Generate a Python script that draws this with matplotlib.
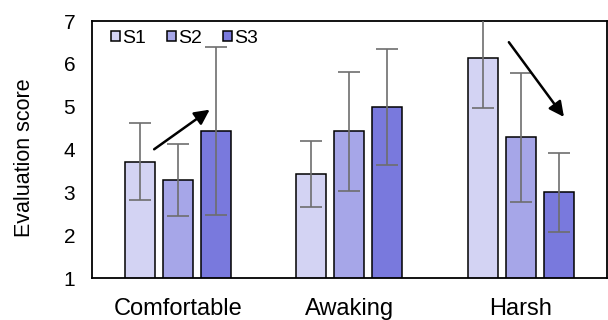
import matplotlib
matplotlib.use("Agg")
import matplotlib.pyplot as plt
import numpy as np

plt.rcParams['font.family'] = ['Liberation Sans', 'DejaVu Sans']

# data
categories = ["Comfortable", "Awaking", "Harsh"]
series = ["S1", "S2", "S3"]
means = {
    "S1": [3.72, 3.43, 6.14],
    "S2": [3.29, 4.43, 4.29],
    "S3": [4.43, 5.00, 3.00],
}
errors = {
    "S1": [0.89, 0.76, 1.16],
    "S2": [0.84, 1.39, 1.51],
    "S3": [1.96, 1.35, 0.92],
}
colors = ["#D3D3F3", "#A6A6E8", "#7979DD"]

fig = plt.figure(figsize=(6.08, 3.2), dpi=100)
ax = fig.add_axes([0.151, 0.131, 0.847, 0.803])

x = np.arange(len(categories))
width = 0.175
step = 0.222
for i, s in enumerate(series):
    pos = x + (i - 1) * step
    ax.bar(pos, means[s], width, bottom=0, color=colors[i], edgecolor="black",
           linewidth=1.1, label=s, zorder=2)
    ax.errorbar(pos, means[s], yerr=errors[s], fmt="none", ecolor="#6e6e6e",
                elinewidth=1.2, capsize=8, capthick=1.2, zorder=3)

# trend arrows
ax.annotate("", xy=(0.20, 4.97), xytext=(-0.15, 3.97),
            arrowprops=dict(arrowstyle="-|>,head_length=0.9,head_width=0.45",
                            color="black", lw=1.8), zorder=4)
ax.annotate("", xy=(2.26, 4.71), xytext=(1.92, 6.56),
            arrowprops=dict(arrowstyle="-|>,head_length=0.9,head_width=0.45",
                            color="black", lw=1.8), zorder=4)

ax.set_xlim(-0.5, 2.5)
ax.set_ylim(1, 7)
ax.set_yticks(range(1, 8))
ax.set_xticks(x)
ax.set_xticklabels(categories, fontsize=17)
ax.tick_params(axis="y", labelsize=15, length=0, pad=12)
ax.tick_params(axis="x", length=0, pad=14)
ax.set_ylabel("Evaluation score", fontsize=15.5)
ax.yaxis.set_label_coords(-0.11, 0.47)

for sp in ax.spines.values():
    sp.set_linewidth(1.3)
    sp.set_color("black")

ax.legend(loc="upper left", ncol=3, frameon=False, fontsize=14,
          handlelength=0.45, handleheight=0.45, handletextpad=0.15,
          columnspacing=1.05, borderaxespad=0.05, bbox_to_anchor=(0.02, 1.0))

fig.savefig("out.png", dpi=100)
